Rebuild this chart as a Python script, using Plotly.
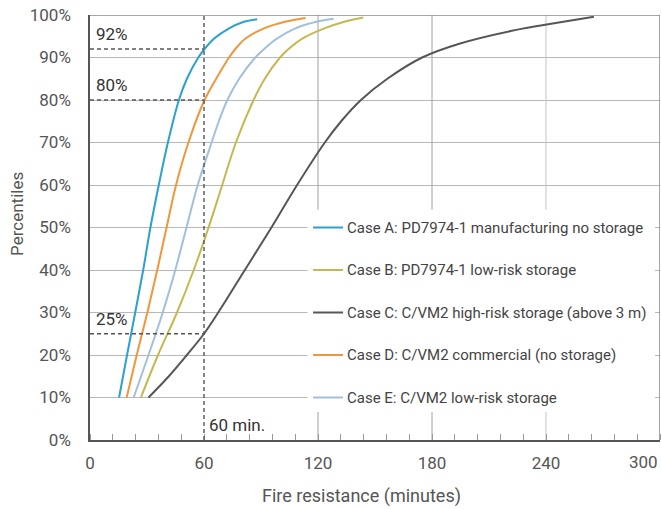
import plotly.graph_objects as go

# ---------------- data ----------------
SERIES_NAMES = [
    "Case A: PD7974-1 manufacturing no storage",
    "Case B: PD7974-1 low-risk storage",
    "Case C: C/VM2 high-risk storage (above 3 m)",
    "Case D: C/VM2 commercial (no storage)",
    "Case E: C/VM2 low-risk storage",
]

# percentile (%) vs fire resistance (minutes)
A_PCT = [10, 20, 30, 40, 50, 60, 70, 80, 85, 90, 92, 94.4, 96.8, 98.4, 99]
A_MIN = [15.3, 19.5, 23.8, 28, 31.8, 36.2, 41, 46.8, 51, 57, 60.3, 65.2, 73, 81, 88]

B_PCT = [10, 20, 30, 40, 50, 60, 70, 80, 85, 90, 92, 94.4, 96.8, 98.4, 99.4]
B_MIN = [26.8, 35.8, 45.8, 54.6, 62.4, 69.6, 76.8, 86.1, 92, 100, 104.5, 111.5, 123, 133.9, 143.8]

C_PCT = [10, 15, 20, 25, 30, 40, 50, 60, 70, 75, 80, 85, 90, 93.3, 96.5, 98, 99.6]
C_MIN = [30.8, 41.5, 51, 60, 67.5, 81.5, 95.5, 109, 123.6, 132.2, 142.6, 156.5, 174.8, 194.8, 224.3, 243.5, 265.2]

D_PCT = [10, 20, 30, 40, 50, 60, 70, 80, 86.6, 90, 92, 94.4, 96.8, 98.4, 99.3]
D_MIN = [19.3, 24.6, 30.2, 35.4, 40.3, 45.3, 51.8, 60.3, 68.5, 73.2, 76.5, 81.7, 91.3, 102.6, 113.5]

E_PCT = [10, 20, 30, 40, 50, 60, 70, 75, 80, 85, 90, 92, 94.4, 96.8, 98.4, 99.1]
E_MIN = [23, 30.8, 38.3, 44.9, 50.8, 56.7, 64, 67.8, 72.3, 78.5, 87, 91.6, 98.2, 107.8, 119.1, 128.2]

X_TICKS = [0, 60, 120, 180, 240, 300]
X_TICK_LABELS = [str(v) for v in X_TICKS]
Y_TICKS = [0, 10, 20, 30, 40, 50, 60, 70, 80, 90, 100]
Y_TICK_LABELS = [f"{v}%" for v in Y_TICKS]

REF_MIN = 60
REF_PCTS = [92, 80, 25]
REF_LABELS = ["92%", "80%", "25%"]
REF_MIN_LABEL = "60 min."

# ---------------- styles ----------------
COLORS = ["#2aa1cf", "#c4b950", "#565656", "#f0963c", "#a2bfdc"]
FONT = "Roboto, 'Open Sans', sans-serif"
GRID = "#b8b8b8"
AXIS = "#555555"
TXT = "#555555"
LEGEND_ROWS = [50, 40, 30, 20, 10]

series = [(A_MIN, A_PCT), (B_MIN, B_PCT), (C_MIN, C_PCT), (D_MIN, D_PCT), (E_MIN, E_PCT)]

fig = go.Figure()
for (xs, ys), name, col in zip(series, SERIES_NAMES, COLORS):
    fig.add_trace(go.Scatter(
        x=xs, y=ys, mode="lines", name=name, showlegend=False,
        line=dict(color=col, width=2, shape="spline", smoothing=1.0),
        hoverinfo="skip",
    ))

shapes = []
# vertical gridlines (not at 60: the dashed reference line is there)
for v, gc in zip(X_TICKS[2:-1], ["#a0a0a0", "#a0a0a0", "#c4c4c4"]):
    shapes.append(dict(type="line", xref="x", yref="y", x0=v, x1=v, y0=0, y1=100,
                       line=dict(color=gc, width=1), layer="between"))
# white box behind the legend
shapes.append(dict(type="rect", xref="x", yref="y", x0=114.5, x1=297.4, y0=6.6, y1=54.2,
                   fillcolor="white", line=dict(width=0), layer="between"))
# legend swatches
for row, col in zip(LEGEND_ROWS, COLORS):
    shapes.append(dict(type="line", xref="x", yref="y", x0=117.4, x1=133.2, y0=row, y1=row,
                       line=dict(color=col, width=2), layer="above"))
# frame top/right
shapes.append(dict(type="line", xref="x", yref="y", x0=0, x1=300, y0=100, y1=100,
                   line=dict(color="#8a8a8a", width=1.5), layer="above"))
shapes.append(dict(type="line", xref="x", yref="y", x0=300, x1=300, y0=0, y1=100,
                   line=dict(color="#8a8a8a", width=1.5), layer="above"))
# dashed reference lines
dash = dict(color="#555555", width=1.4, dash="4px,3px")
shapes.append(dict(type="line", xref="x", yref="y", x0=REF_MIN, x1=REF_MIN, y0=0, y1=100, line=dash))
for p in REF_PCTS:
    shapes.append(dict(type="line", xref="x", yref="y", x0=0, x1=REF_MIN, y0=p, y1=p, line=dash))

annotations = []
for row, name in zip(LEGEND_ROWS, SERIES_NAMES):
    annotations.append(dict(x=134.4, y=row, xref="x", yref="y", text=name, showarrow=False,
                            xanchor="left", yanchor="middle",
                            font=dict(family=FONT, size=15, color="#444444")))
for p, lab in zip(REF_PCTS, REF_LABELS):
    annotations.append(dict(x=2.2, y=p + 0.7, xref="x", yref="y", text=lab, showarrow=False,
                            xanchor="left", yanchor="bottom",
                            font=dict(family=FONT, size=17, color="#333333")))
annotations.append(dict(x=REF_MIN + 1.5, y=3.6, xref="x", yref="y", text=REF_MIN_LABEL,
                        showarrow=False, xanchor="left", yanchor="middle",
                        font=dict(family=FONT, size=17, color="#333333")))
# last x tick label sits flush with the right edge (as in the original)
annotations.append(dict(x=X_TICKS[-1], y=-0.052, xref="x", yref="paper", text=X_TICK_LABELS[-1],
                        showarrow=False, xanchor="right", yanchor="middle",
                        font=dict(family=FONT, size=17, color=TXT)))
# axis titles
annotations.append(dict(x=0.477, y=-0.132, xref="paper", yref="paper", text="Fire resistance (minutes)",
                        showarrow=False, xanchor="center", yanchor="middle",
                        font=dict(family=FONT, size=18, color=TXT)))
annotations.append(dict(x=-0.128, y=0.532, xref="paper", yref="paper", text="Percentiles",
                        showarrow=False, xanchor="center", yanchor="middle", textangle=-90,
                        font=dict(family=FONT, size=17, color=TXT)))

fig.update_layout(
    width=662, height=509,
    margin=dict(l=90, r=2, t=15, b=69, autoexpand=False),
    paper_bgcolor="white", plot_bgcolor="white",
    shapes=shapes, annotations=annotations,
    font=dict(family=FONT, size=17, color=TXT),
    showlegend=False,
)
fig.update_xaxes(
    range=[0, 300], tickvals=X_TICKS[:-1], ticktext=X_TICK_LABELS[:-1],
    showgrid=False, zeroline=False, automargin=False,
    showline=True, linecolor=AXIS, linewidth=1.5,
    ticks="", ticklabelstandoff=7, ticklabeloverflow="allow",
    minor=dict(dtick=12, tick0=0, ticks="inside", ticklen=6, tickcolor="#999999", tickwidth=1, showgrid=False),
    tickfont=dict(family=FONT, size=17, color=TXT),
)
fig.update_yaxes(
    range=[0, 100], tickvals=Y_TICKS, ticktext=Y_TICK_LABELS,
    showgrid=True, gridcolor=GRID, gridwidth=1, zeroline=False, automargin=False,
    showline=True, linecolor=AXIS, linewidth=1.5,
    ticks="", ticklabelstandoff=14, ticklabeloverflow="allow",
    tickfont=dict(family=FONT, size=17, color=TXT),
)

# remove the browser's default 8px body margin so the 662x509 figure fills the window
fig.write_html("out.html", config={"displayModeBar": False},
               post_script="document.body.style.margin='0px';")
